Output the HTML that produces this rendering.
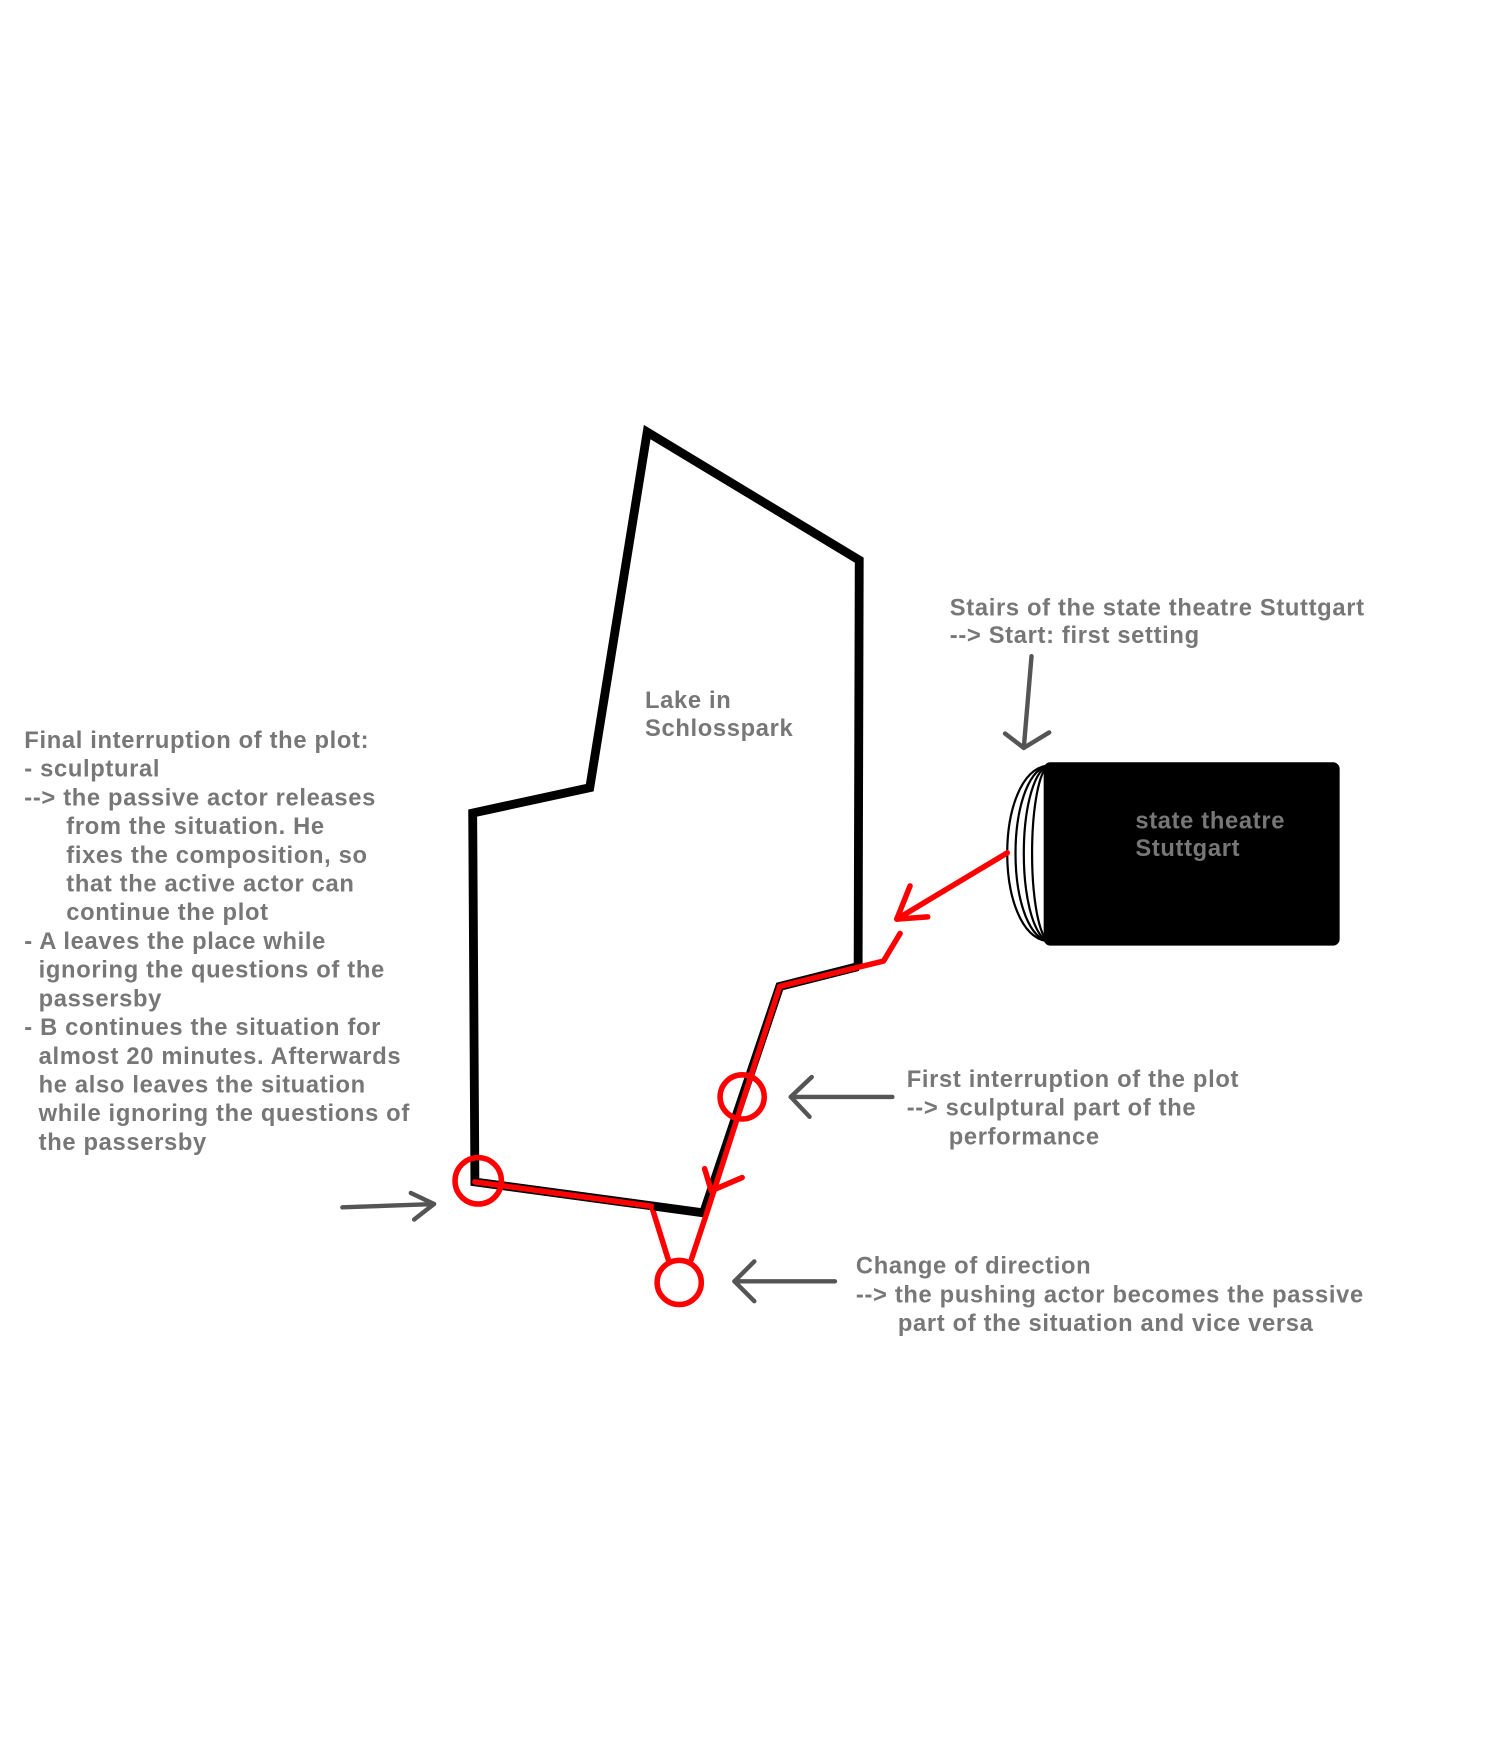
<!DOCTYPE html>
<html><head><meta charset="utf-8"><style>
html,body{margin:0;padding:0;background:#fff;}
svg{display:block;}
text{font-family:"Liberation Sans",Arial,sans-serif;font-weight:bold;font-size:21.5px;letter-spacing:0.6px;fill:#777;}
</style></head><body>
<svg width="1502" height="1741" viewBox="0 0 1360 1576" xmlns="http://www.w3.org/2000/svg">
<rect width="1360" height="1576" fill="#fff"/>
<polyline points="777,875 778,507 586,391 534,713 428,736 430,1070 637,1098 706,893 777,875" fill="none" stroke="#000" stroke-width="8" stroke-linejoin="miter"/>
<text x="584" y="641">Lake in</text>
<text x="584" y="666">Schlosspark</text>
<rect x="945" y="690" width="268" height="166" rx="6" fill="#000"/>
<path d="M948,693 C900,700 900,845 948,852" fill="none" stroke="#000" stroke-width="2"/>
<path d="M948,693 C910,705 910,840 948,852" fill="none" stroke="#000" stroke-width="2"/>
<path d="M948,693 C920,710 920,835 948,852" fill="none" stroke="#000" stroke-width="2"/>
<path d="M948,693 C930,715 930,830 948,852" fill="none" stroke="#000" stroke-width="2"/>
<text x="1028" y="750">state theatre</text>
<text x="1028" y="775">Stuttgart</text>
<g fill="none" stroke="#f00" stroke-width="5" stroke-linecap="round" stroke-linejoin="round">
<line x1="912" y1="772" x2="812" y2="832"/>
<polyline points="824,802 812,832 840,830"/>
<polyline points="815,845 800,870 706,893 640,1098"/>
<polyline points="638,1058 644,1078 672,1066"/>
<polyline points="430,1070 590,1092 605,1140"/>
<line x1="640" y1="1098" x2="626" y2="1140"/>
<circle cx="672" cy="993" r="20"/>
<circle cx="433" cy="1069" r="21"/>
<circle cx="615" cy="1161" r="20"/>
</g>
<line x1="592" y1="1092" x2="637" y2="1098" stroke="#000" stroke-width="7"/>
<g fill="none" stroke="#555" stroke-width="4" stroke-linecap="round" stroke-linejoin="round">
<line x1="934" y1="594" x2="927" y2="677"/>
<polyline points="910,664 927,677 950,663"/>
<line x1="808" y1="993" x2="716" y2="993"/>
<polyline points="735,975 716,993 733,1011"/>
<line x1="756" y1="1160" x2="665" y2="1160"/>
<polyline points="683,1142 665,1160 683,1178"/>
<line x1="310" y1="1093" x2="393" y2="1090"/>
<polyline points="372,1080 393,1090 375,1104"/>
</g>
<text x="860" y="557">Stairs of the state theatre Stuttgart</text>
<text x="860" y="582">--&gt; Start: first setting</text>
<text x="821" y="984">First interruption of the plot</text>
<text x="821" y="1010">--&gt; sculptural part of the</text>
<text x="859" y="1036">performance</text>
<text x="775" y="1153">Change of direction</text>
<text x="775" y="1179">--&gt; the pushing actor becomes the passive</text>
<text x="813" y="1205">part of the situation and vice versa</text>
<text x="22" y="677">Final interruption of the plot:</text>
<text x="22" y="703">- sculptural</text>
<text x="22" y="729">--&gt; the passive actor releases</text>
<text x="60" y="755">from the situation. He</text>
<text x="60" y="781">fixes the composition, so</text>
<text x="60" y="807">that the active actor can</text>
<text x="60" y="833">continue the plot</text>
<text x="22" y="859">- A leaves the place while</text>
<text x="35" y="885">ignoring the questions of the</text>
<text x="35" y="911">passersby</text>
<text x="22" y="937">- B continues the situation for</text>
<text x="35" y="963">almost 20 minutes. Afterwards</text>
<text x="35" y="989">he also leaves the situation</text>
<text x="35" y="1015">while ignoring the questions of</text>
<text x="35" y="1041">the passersby</text>
</svg>
</body></html>
